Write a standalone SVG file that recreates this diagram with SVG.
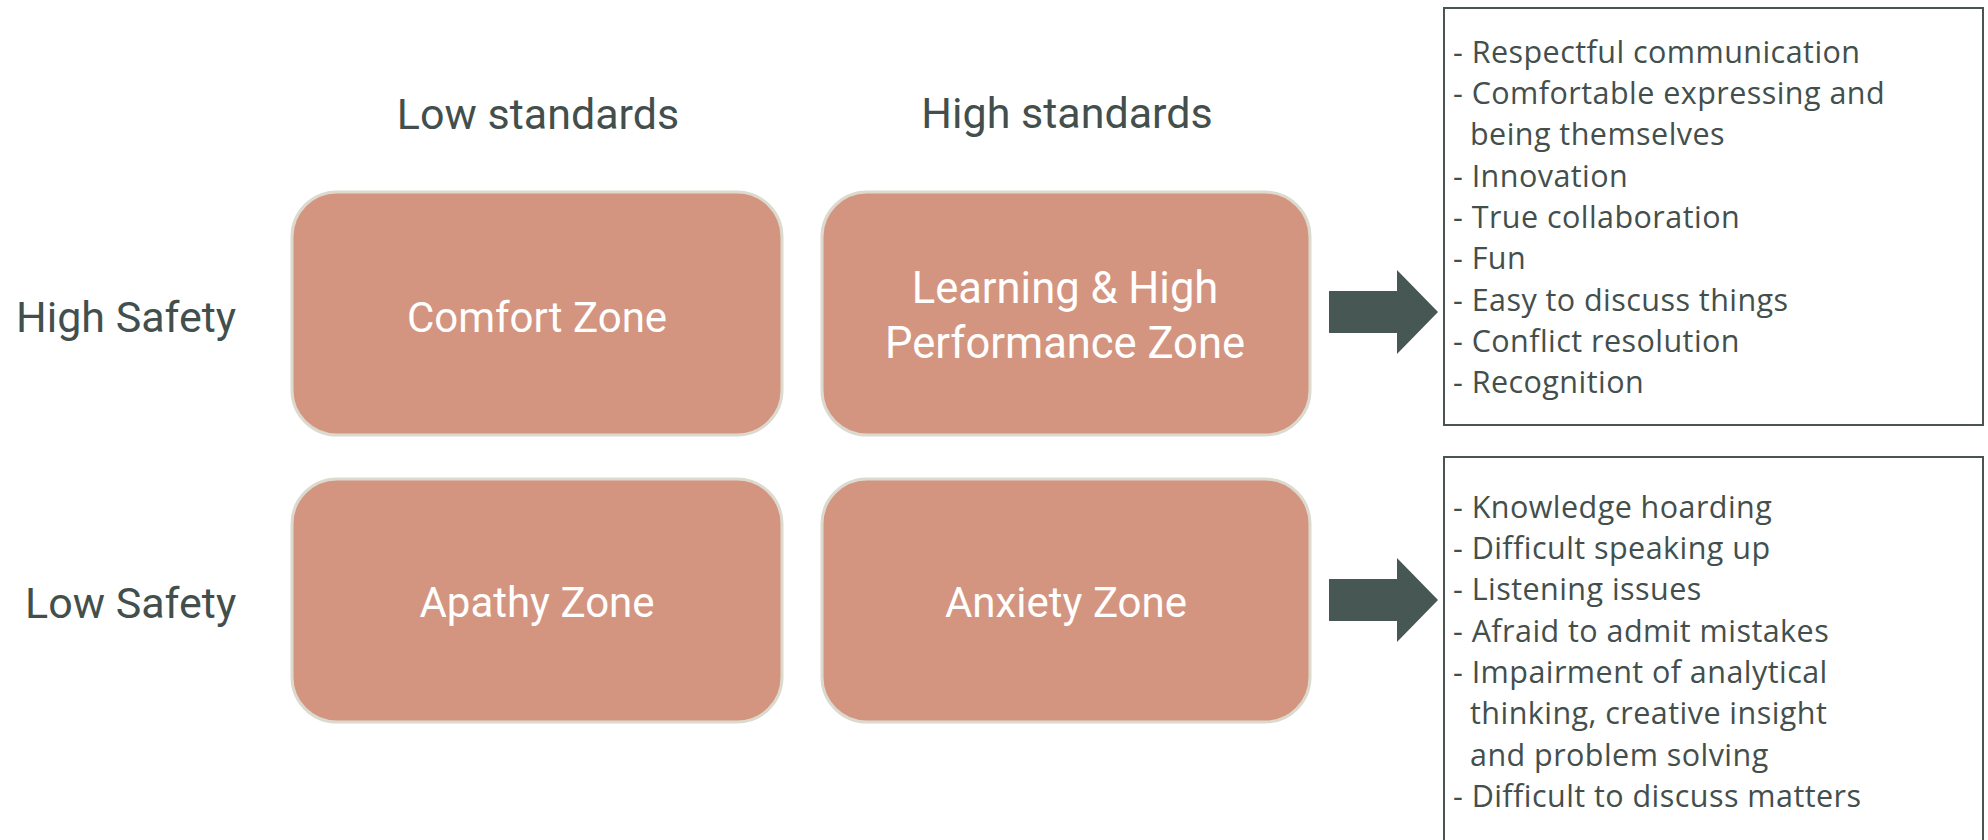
<svg xmlns="http://www.w3.org/2000/svg" width="1988" height="840" viewBox="0 0 1988 840">
<style>
.zone{fill:#d49580;stroke:#dcd9cf;stroke-width:3}
.zt{font-family:Roboto,"Liberation Sans",sans-serif;font-size:42px;fill:#ffffff;text-anchor:middle}
.zt2{font-size:43.5px}
.hd{font-family:Roboto,"Liberation Sans",sans-serif;font-size:43px;fill:#434f4d}
.hdc{text-anchor:middle}
.lst{fill:#ffffff;stroke:#4a5553;stroke-width:2}
.li{font-family:"Open Sans",Roboto,"Liberation Sans",sans-serif;font-size:30.5px;letter-spacing:0.45px;fill:#434f4d}
.arr{fill:#475754}
</style>
<rect width="1988" height="840" fill="#ffffff"/>
<g id="header-low"><text class="hd hdc" x="538" y="129">Low standards</text></g>
<g id="header-high"><text class="hd hdc" x="1067" y="128">High standards</text></g>
<g id="label-high-safety"><text class="hd" x="16" y="332">High Safety</text></g>
<g id="label-low-safety"><text class="hd" x="25" y="618">Low Safety</text></g>
<g id="comfort-zone">
<rect class="zone" x="292" y="192" width="490" height="243" rx="45"/>
<text class="zt" x="537" y="332">Comfort Zone</text>
</g>
<g id="learning-zone">
<rect class="zone" x="822" y="192" width="488" height="243" rx="45"/>
<text class="zt zt2" x="1065" y="303">Learning &amp; High</text>
<text class="zt zt2" x="1065" y="358">Performance Zone</text>
</g>
<g id="apathy-zone">
<rect class="zone" x="292" y="479" width="490" height="243" rx="45"/>
<text class="zt" x="537" y="617">Apathy Zone</text>
</g>
<g id="anxiety-zone">
<rect class="zone" x="822" y="479" width="488" height="243" rx="45"/>
<text class="zt" x="1066" y="617">Anxiety Zone</text>
</g>
<g id="connectors">
<polygon class="arr" points="1329,291 1397,291 1397,270 1438,312 1397,354 1397,333 1329,333"/>
<polygon class="arr" points="1329,579 1397,579 1397,558 1438,600 1397,642 1397,621 1329,621"/>
</g>
<g id="positive-list">
<rect class="lst" x="1444" y="8" width="539" height="417"/>
<text class="li" x="1453" y="63">- Respectful communication</text>
<text class="li" x="1453" y="104">- Comfortable expressing and</text>
<text class="li" x="1470" y="145">being themselves</text>
<text class="li" x="1453" y="187">- Innovation</text>
<text class="li" x="1453" y="228">- True collaboration</text>
<text class="li" x="1453" y="269">- Fun</text>
<text class="li" x="1453" y="311">- Easy to discuss things</text>
<text class="li" x="1453" y="352">- Conflict resolution</text>
<text class="li" x="1453" y="393">- Recognition</text>
</g>
<g id="negative-list">
<rect class="lst" x="1444" y="457" width="539" height="400"/>
<text class="li" x="1453" y="518">- Knowledge hoarding</text>
<text class="li" x="1453" y="559">- Difficult speaking up</text>
<text class="li" x="1453" y="600">- Listening issues</text>
<text class="li" x="1453" y="642">- Afraid to admit mistakes</text>
<text class="li" x="1453" y="683">- Impairment of analytical</text>
<text class="li" x="1470" y="724">thinking, creative insight</text>
<text class="li" x="1470" y="766">and problem solving</text>
<text class="li" x="1453" y="807">- Difficult to discuss matters</text>
</g>
</svg>
